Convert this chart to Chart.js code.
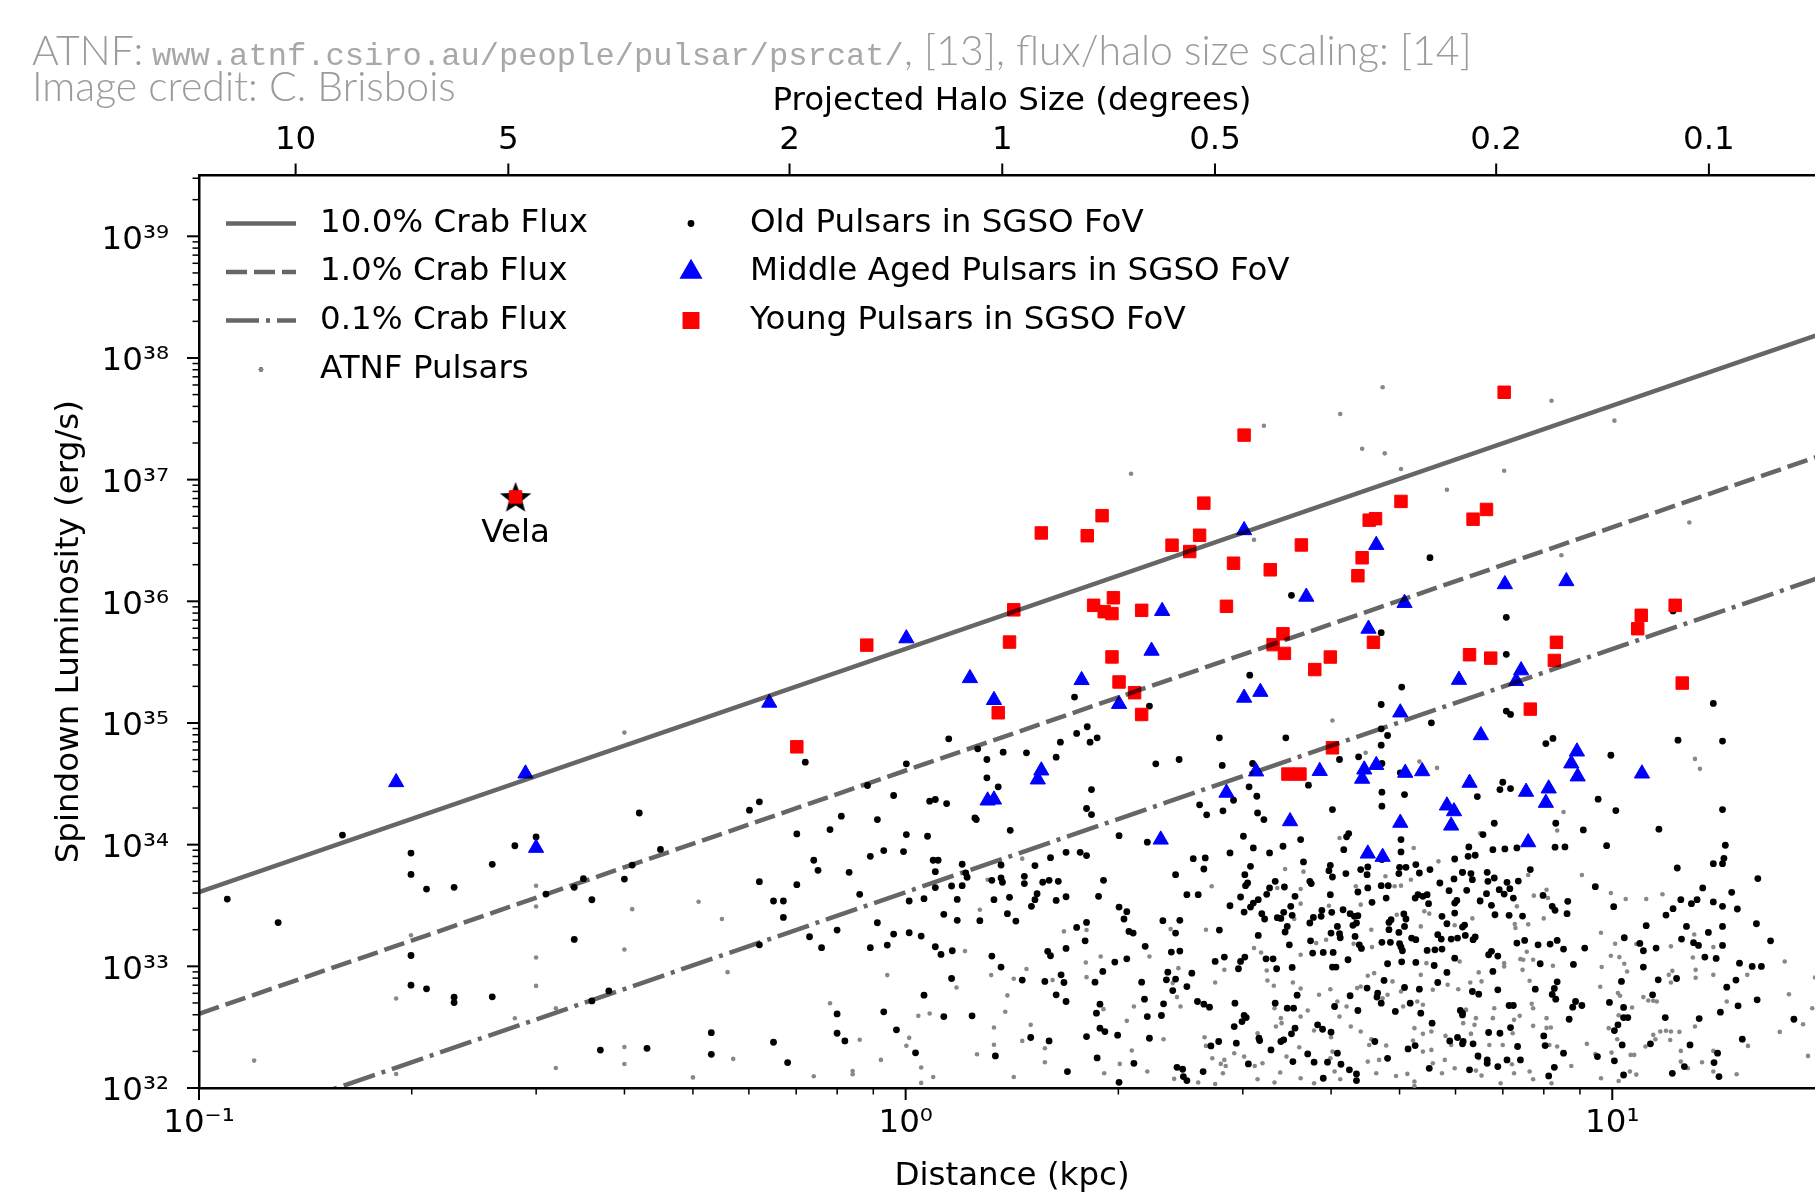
<!DOCTYPE html>
<html>
<head>
<meta charset="utf-8">
<script src="https://cdn.jsdelivr.net/npm/chart.js@4.4.1/dist/chart.umd.min.js"></script>
<style>
  html, body { margin: 0; padding: 0; background: #fff; overflow: hidden; }
  #wrap { width: 1843px; height: 1196px; }
</style>
</head>
<body>
<div id="wrap"><canvas id="pulsarChart" width="1843" height="1196"></canvas></div>
<script>
// all points are [log10(distance / kpc), log10(spindown luminosity / erg s^-1)]

const youngPulsars = [
  [-0.552,36.858],
  [-0.055,35.640],[-0.154,34.804],[0.192,36.562],[0.153,35.930],[0.147,35.665],[0.131,35.084],
  [0.257,36.539],[0.278,36.704],[0.266,35.967],[0.281,35.915],[0.294,36.029],[0.292,35.899],
  [0.292,35.543],[0.302,35.337],[0.324,35.249],[0.334,35.070],[0.334,35.926],[0.377,36.461],
  [0.402,36.409],[0.422,36.807],[0.416,36.543],[0.454,35.959],[0.464,36.313],[0.479,37.366],
  [0.516,36.259],[0.520,35.644],[0.534,35.733],[0.536,35.572],[0.560,36.463],[0.579,35.439],
  [0.601,35.542],[0.604,34.796],[0.541,34.580],[0.558,34.580],[0.640,36.210],[0.646,36.358],
  [0.656,36.667],[0.665,36.679],[0.662,35.663],[0.701,36.821],[0.803,36.675],[0.822,36.755],
  [0.798,35.561],[0.828,35.533],[0.847,37.718],[0.884,35.114],[0.918,35.514],[0.921,35.663],
  [1.036,35.775],[1.041,35.885],[1.089,35.967],[1.099,35.328]
];

const vela = [[-0.552,36.858]];

const middlePulsars = [
  [-0.721,34.513],[-0.538,34.584],[-0.523,33.973],[-0.193,35.166],[0.001,35.695],[0.091,35.368],
  [0.125,35.188],[0.116,34.362],[0.125,34.370],[0.187,34.535],[0.192,34.609],[0.249,35.352],
  [0.302,35.156],[0.348,35.593],[0.363,35.920],[0.361,34.041],[0.479,36.584],[0.479,35.207],
  [0.502,35.255],[0.496,34.601],[0.454,34.426],[0.567,36.037],[0.544,34.192],[0.586,34.605],
  [0.655,35.774],[0.649,34.617],[0.666,34.654],[0.646,34.541],[0.666,36.463],[0.706,35.986],
  [0.700,35.086],[0.707,34.590],[0.731,34.603],[0.700,34.179],[0.654,33.926],[0.675,33.899],
  [0.766,34.321],[0.776,34.274],[0.772,34.156],[0.783,35.354],[0.814,34.899],[0.798,34.508],
  [0.871,35.432],[0.864,35.344],[0.848,36.140],[0.878,34.434],[0.881,34.019],[0.906,34.343],
  [0.910,34.461],[0.935,36.165],[0.950,34.765],[0.942,34.667],[0.951,34.560],[1.042,34.584]
];

const oldPulsars = [
  [-0.960,33.553],[-0.888,33.360],[-0.797,34.079],[-0.700,33.931],[-0.700,33.755],[-0.678,33.635],
  [-0.639,33.649],[-0.585,33.838],[-0.553,33.991],[-0.523,34.063],[-0.509,33.594],[-0.469,33.649],
  [-0.456,33.720],[-0.444,33.547],[-0.398,33.717],[-0.387,33.832],[-0.377,34.260],[-0.347,33.961],
  [-0.469,33.221],[-0.700,33.089],[-0.700,32.845],[-0.678,32.815],[-0.639,32.746],[-0.639,32.702],
  [-0.585,32.749],[-0.444,32.716],[-0.420,32.798],[-0.432,32.312],[-0.366,32.326],[-0.275,32.455],
  [-0.275,32.277],
  [0.131,34.475],[0.263,34.453],[0.256,34.297],[0.263,34.247],[-0.221,34.283],[-0.207,34.352],
  [-0.054,34.486],[-0.017,34.404],[0.034,34.357],[0.042,34.371],[0.058,34.338],[0.098,34.220],
  [0.100,34.206],[0.148,34.118],[-0.091,34.234],[-0.040,34.206],[-0.107,34.124],[-0.154,34.088],
  [0.001,34.083],[0.031,34.069],[-0.130,33.872],[-0.124,33.789],[-0.080,33.773],[-0.050,33.904],
  [-0.031,33.951],[-0.003,33.943],[0.039,33.872],[0.046,33.872],[0.042,33.778],[0.080,33.839],
  [0.085,33.767],[0.087,33.732],[0.135,33.833],[0.183,33.828],[0.205,33.893],[0.227,33.937],
  [0.247,33.937],[0.256,33.910],[0.122,33.707],[0.135,33.726],[0.137,33.691],[0.168,33.740],
  [0.168,33.680],[0.194,33.691],[0.203,33.707],[0.216,33.699],[-0.207,33.696],[-0.154,33.671],
  [-0.065,33.592],[-0.187,33.537],[-0.173,33.537],[-0.173,33.402],[0.005,33.537],[0.026,33.556],
  [0.042,33.647],[0.065,33.660],[0.080,33.663],[0.073,33.550],[0.125,33.548],[0.147,33.567],
  [0.186,33.597],[0.183,33.548],[0.178,33.493],[0.213,33.542],[0.227,33.572],[0.273,33.575],
  [0.054,33.427],[0.073,33.378],[0.105,33.375],[0.144,33.433],[0.156,33.372],[-0.040,33.358],
  [-0.097,33.298],[-0.136,33.243],[-0.207,33.177],[-0.119,33.153],[-0.050,33.153],[-0.026,33.175],
  [-0.017,33.265],[0.005,33.276],[0.022,33.249],[0.042,33.161],[0.050,33.098],[0.066,33.128],
  [0.122,33.084],[0.135,32.994],[0.242,33.320],[0.256,33.361],[0.254,33.210],[0.227,33.147],
  [0.201,33.123],[0.205,33.087],[0.268,32.870],[0.165,32.887],[0.197,32.876],[0.220,32.930],
  [0.224,32.867],[0.213,32.766],[0.227,32.711],[0.275,32.689],[0.270,32.615],[0.275,32.492],
  [0.256,32.423],[0.177,32.415],[0.203,32.387],[0.271,32.247],[0.229,32.135],[0.127,32.264],
  [0.014,32.289],[-0.013,32.478],[0.065,32.900],[0.026,32.763],[-0.031,32.626],[0.054,32.587],
  [0.094,32.593],[-0.097,32.609],[-0.097,32.450],[-0.086,32.387],[-0.187,32.376],[-0.167,32.209],
  [0.354,34.664],[0.448,34.651],[0.491,34.667],[0.674,34.667],[0.570,34.489],[0.486,34.475],
  [0.497,34.398],[0.464,34.365],[0.674,34.431],[0.706,34.412],[0.674,34.316],[0.416,34.327],
  [0.449,34.278],[0.426,34.245],[0.498,34.261],[0.507,34.206],[0.604,34.288],[0.302,34.074],
  [0.342,34.020],[0.478,34.069],[0.559,34.042],[0.534,33.987],[0.492,33.973],[0.515,33.932],
  [0.459,33.932],[0.620,33.959],[0.627,34.091],[0.624,34.064],[0.701,34.042],[0.701,33.940],
  [0.407,33.885],[0.424,33.891],[0.422,33.800],[0.488,33.822],[0.563,33.858],[0.601,33.830],
  [0.599,33.786],[0.382,33.753],[0.480,33.753],[0.623,33.762],[0.604,33.734],[0.644,33.795],
  [0.654,33.817],[0.653,33.753],[0.674,33.877],[0.699,33.814],[0.708,33.814],[0.722,33.836],
  [0.742,33.795],[0.777,33.882],[0.788,33.773],[0.776,33.718],[0.727,33.767],[0.280,33.707],
  [0.398,33.589],[0.414,33.589],[0.459,33.498],[0.474,33.570],[0.481,33.663],[0.484,33.685],
  [0.511,33.592],[0.515,33.644],[0.523,33.699],[0.536,33.652],[0.551,33.575],[0.572,33.699],
  [0.574,33.680],[0.601,33.589],[0.640,33.611],[0.654,33.644],[0.660,33.526],[0.680,33.561],
  [0.673,33.663],[0.683,33.663],[0.698,33.762],[0.721,33.561],[0.725,33.589],[0.732,33.575],
  [0.738,33.589],[0.740,33.515],[0.756,33.685],[0.769,33.622],[0.777,33.520],[0.780,33.542],
  [0.759,33.411],[0.777,33.438],[0.302,33.487],[0.313,33.449],[0.309,33.389],[0.364,33.375],
  [0.388,33.378],[0.382,33.273],[0.316,33.287],[0.322,33.273],[0.339,33.164],[0.376,33.117],
  [0.388,33.125],[0.296,33.035],[0.313,33.062],[0.279,32.958],[0.444,33.298],[0.479,33.446],
  [0.488,33.487],[0.492,33.520],[0.499,33.548],[0.504,33.433],[0.508,33.389],[0.499,33.254],
  [0.526,33.400],[0.531,33.394],[0.535,33.444],[0.537,33.282],[0.540,33.328],[0.545,33.493],
  [0.547,33.419],[0.543,33.177],[0.572,33.356],[0.577,33.402],[0.589,33.460],[0.588,33.411],
  [0.603,33.444],[0.611,33.328],[0.602,33.273],[0.614,33.268],[0.615,33.235],[0.573,33.210],
  [0.619,33.465],[0.629,33.433],[0.635,33.411],[0.640,33.416],[0.638,33.356],[0.633,33.337],
  [0.636,33.246],[0.642,33.177],[0.645,33.147],[0.684,33.361],[0.687,33.383],[0.684,33.301],
  [0.674,33.197],[0.686,33.197],[0.699,33.186],[0.701,33.158],[0.698,33.279],[0.706,33.328],
  [0.705,33.430],[0.708,33.389],[0.716,33.232],[0.722,33.219],[0.703,33.128],[0.738,33.131],
  [0.749,33.136],[0.753,33.260],[0.758,33.224],[0.759,33.142],[0.772,33.224],[0.781,33.232],
  [0.766,33.350],[0.791,33.339],[0.777,33.067],[0.748,33.007],[0.722,33.032],[0.702,33.037],
  [0.682,33.021],[0.626,33.054],[0.605,33.114],[0.591,33.114],[0.576,33.109],[0.604,32.994],
  [0.609,32.994],[0.547,32.991],[0.525,32.980],[0.510,33.062],[0.520,33.062],[0.480,33.076],
  [0.474,33.040],[0.471,32.980],[0.451,33.076],[0.438,33.040],[0.766,32.950],[0.753,32.867],
  [0.727,32.812],[0.706,32.826],[0.677,32.884],[0.653,32.821],[0.668,32.780],[0.667,32.747],
  [0.673,32.697],[0.693,32.629],[0.714,32.697],[0.729,32.615],[0.745,32.533],[0.785,32.637],
  [0.788,32.601],[0.629,32.758],[0.607,32.670],[0.640,32.637],[0.583,32.519],[0.590,32.483],
  [0.602,32.459],[0.554,32.763],[0.540,32.656],[0.549,32.656],[0.551,32.492],[0.546,32.445],
  [0.535,32.396],[0.531,32.382],[0.523,32.697],[0.500,32.409],[0.501,32.390],[0.517,32.313],
  [0.468,32.368],[0.465,32.505],[0.476,32.546],[0.482,32.579],[0.479,32.596],[0.466,32.697],
  [0.443,32.382],[0.432,32.346],[0.413,32.711],[0.422,32.689],[0.430,32.664],[0.382,32.895],
  [0.378,32.801],[0.369,32.889],[0.371,32.952],[0.398,32.834],[0.405,32.944],[0.334,32.870],
  [0.338,32.730],[0.365,32.692],[0.342,32.587],[0.362,32.596],[0.345,32.409],[0.300,32.434],
  [0.282,32.464],[0.323,32.203],[0.302,32.047],[0.384,32.170],[0.392,32.154],[0.393,32.094],
  [0.398,32.061],[0.421,32.135],[0.485,32.198],[0.548,32.217],[0.569,32.280],[0.578,32.212],
  [0.597,32.212],[0.611,32.286],[0.616,32.195],[0.628,32.149],[0.638,32.116],[0.638,32.061],
  [0.591,32.080],[0.664,32.382],[0.682,32.244],[0.711,32.321],[0.721,32.349],[0.741,32.162],
  [0.770,32.387],[0.781,32.415],[0.789,32.382],[0.803,32.363],[0.798,32.149],
  [0.845,34.513],[0.841,34.453],[0.856,34.461],[0.809,34.395],[0.980,34.374],[1.005,34.280],
  [1.156,34.288],[0.833,34.176],[0.817,34.083],[0.920,34.176],[0.959,34.121],[1.066,34.127],
  [0.797,33.981],[0.796,33.904],[0.806,33.913],[0.831,33.959],[0.848,33.965],[0.865,33.973],
  [0.919,33.979],[0.933,33.981],[0.992,33.992],[1.160,33.995],[1.143,33.844],[1.156,33.844],
  [1.158,33.888],[1.092,33.808],[0.884,33.795],[0.788,33.773],[0.800,33.762],[0.823,33.773],
  [0.833,33.726],[0.824,33.699],[0.802,33.712],[0.851,33.690],[0.867,33.701],[0.794,33.625],
  [0.822,33.597],[0.840,33.630],[0.847,33.594],[0.855,33.638],[0.860,33.561],[0.813,33.537],
  [0.829,33.501],[0.834,33.424],[0.854,33.419],[0.873,33.413],[0.902,33.583],[0.915,33.493],
  [0.919,33.460],[0.937,33.534],[0.936,33.433],[0.976,33.655],[1.002,33.490],[1.206,33.721],
  [1.128,33.644],[1.169,33.608],[1.097,33.548],[1.120,33.548],[1.112,33.515],[1.143,33.529],
  [1.156,33.493],[1.177,33.471],[1.086,33.474],[1.076,33.421],[1.204,33.350],[1.048,33.334],
  [1.105,33.328],[1.136,33.279],[1.156,33.328],[1.224,33.210],[0.788,33.323],[0.792,33.254],
  [0.803,33.219],[0.806,33.241],[0.865,33.191],[0.876,33.213],[0.895,33.177],[0.912,33.183],
  [0.922,33.213],[0.931,33.142],[0.961,33.150],[1.017,33.235],[1.039,33.188],[1.044,33.128],
  [1.062,33.150],[1.098,33.224],[1.115,33.194],[1.122,33.172],[1.156,33.172],[1.131,33.076],
  [1.147,33.065],[1.180,33.026],[1.198,32.999],[1.211,32.999],[0.825,33.095],[0.829,33.123],
  [0.838,33.084],[0.831,32.958],[0.898,33.021],[0.945,33.016],[1.044,32.994],[1.065,32.889],
  [1.091,32.900],[1.013,32.876],[0.922,32.873],[0.918,32.818],[0.915,32.769],[0.920,32.730],
  [0.891,32.812],[0.838,32.807],[0.802,32.793],[0.811,32.771],[1.162,32.829],[1.175,32.887],
  [1.057,32.766],[0.996,32.703],[1.016,32.662],[0.948,32.711],[0.944,32.664],[0.957,32.678],
  [0.854,32.678],[0.860,32.678],[0.788,32.615],[1.205,32.725],[1.178,32.675],[1.153,32.623],
  [1.075,32.579],[1.123,32.571],[1.257,32.565],[1.016,32.579],[1.022,32.579],[0.939,32.565],
  [0.856,32.497],[1.008,32.519],[1.003,32.472],[0.903,32.428],[0.825,32.456],[0.841,32.450],
  [1.184,32.401],[1.110,32.354],[1.054,32.363],[1.014,32.354],[0.905,32.349],[0.866,32.341],
  [0.788,32.363],[0.931,32.286],[1.149,32.286],[0.979,32.258],[0.810,32.264],[0.823,32.231],
  [0.823,32.203],[0.851,32.231],[0.870,32.231],[0.838,32.176],[1.003,32.223],[1.144,32.209],
  [1.102,32.176],[0.918,32.170],[0.910,32.099],[1.016,32.107],[1.085,32.121],[1.151,32.094],
  [0.742,36.359],[0.546,36.049],[0.850,35.868],[0.673,35.742],[0.850,35.564],[0.702,35.295],
  [0.673,35.152],[0.744,35.001],[0.850,35.098],[0.856,35.070],[0.673,34.952],[0.682,34.897],
  [0.673,34.818],[0.538,34.878],[0.614,34.700],[0.641,34.722],[0.906,34.831],[0.916,34.873],
  [0.998,34.735],[1.093,34.859],[1.156,34.851],[1.143,35.161],[1.086,35.921],[0.700,34.590],
  [-0.142,34.678],[0.001,34.664],[0.061,34.870],[0.102,34.788],[0.115,34.700],[0.138,34.760],
  [0.171,34.755],[0.213,34.719],[0.219,34.842],[0.242,34.914],[0.257,34.969],[0.261,34.842],
  [0.271,34.878],[0.239,35.213],[0.345,35.139],[0.387,34.700],[0.115,34.549],
  [0.487,35.393],[0.444,34.878]
];

const atnfPulsars = [
  [-0.398,34.921],[-0.523,33.662],[-0.523,33.492],[-0.387,33.470],[-0.293,33.531],[-0.700,33.256],
  [-0.523,33.073],[-0.398,33.138],[-0.523,32.839],[-0.721,32.735],[-0.553,32.573],[-0.495,32.655],
  [-0.922,32.225],[-0.721,32.115],[-0.495,32.164],[-0.398,32.337],[-0.398,32.197],[-0.301,32.087],
  [0.165,33.885],[0.116,33.712],[0.105,33.465],[0.224,33.287],[0.256,33.298],[0.255,33.032],
  [0.276,33.081],[0.256,32.911],[0.208,32.887],[0.171,32.978],[0.153,32.898],[0.144,32.761],
  [0.121,32.928],[0.141,32.627],[0.125,32.497],[0.125,32.355],[0.101,32.278],[0.177,32.519],
  [0.165,32.387],[0.197,32.327],[0.197,32.212],[0.153,32.091],[0.084,33.125],[0.072,32.826],
  [0.034,32.612],[0.018,32.593],[0.005,32.412],[0.001,32.347],[0.022,32.168],[0.022,32.042],
  [0.039,32.091],[-0.035,32.231],[-0.065,32.396],[-0.075,32.140],[-0.075,32.113],[-0.130,32.096],
  [-0.107,32.697],[-0.026,32.928],[-0.244,32.239],[-0.252,32.952],[-0.260,33.389],
  [0.614,34.055],[0.719,33.973],[0.754,33.863],[0.679,33.740],[0.692,33.658],[0.701,33.663],
  [0.715,33.712],[0.637,33.658],[0.537,33.800],[0.563,33.778],[0.559,33.636],[0.526,33.644],
  [0.433,33.658],[0.559,33.515],[0.599,33.498],[0.644,33.507],[0.695,33.424],[0.734,33.452],
  [0.741,33.433],[0.777,33.337],[0.812,33.548],[0.659,33.301],[0.634,33.186],[0.660,33.158],
  [0.581,33.191],[0.595,33.219],[0.550,33.389],[0.493,33.150],[0.503,33.114],[0.511,32.966],
  [0.512,32.884],[0.521,32.840],[0.548,32.867],[0.559,32.818],[0.559,33.095],[0.585,32.766],
  [0.601,32.812],[0.611,32.711],[0.624,32.670],[0.639,32.821],[0.644,32.834],[0.654,32.922],
  [0.663,32.944],[0.675,32.738],[0.682,32.766],[0.689,32.876],[0.701,32.793],[0.704,32.670],
  [0.724,32.711],[0.732,32.684],[0.729,32.930],[0.737,33.026],[0.729,33.328],[0.746,32.807],
  [0.767,32.848],[0.782,32.812],[0.799,32.867],[0.784,33.040],[0.793,32.643],[0.789,32.533],
  [0.800,32.445],[0.764,32.428],[0.772,32.354],[0.744,32.464],[0.732,32.445],[0.720,32.492],
  [0.718,32.390],[0.732,32.299],[0.744,32.313],[0.746,32.203],[0.763,32.231],[0.759,32.121],
  [0.777,32.162],[0.811,32.244],[0.710,32.116],[0.694,32.099],[0.720,32.053],[0.720,32.017],
  [0.666,32.121],[0.680,32.349],[0.670,32.231],[0.659,32.401],[0.656,32.354],[0.644,32.464],
  [0.630,32.505],[0.614,32.587],[0.602,32.417],[0.604,32.299],[0.601,32.244],[0.607,32.135],
  [0.615,32.072],[0.559,32.587],[0.569,32.637],[0.578,32.472],[0.557,32.335],[0.539,32.258],
  [0.530,32.127],[0.522,32.045],[0.498,32.072],[0.494,32.181],[0.505,32.203],[0.479,32.258],
  [0.465,32.286],[0.524,32.505],[0.531,32.574],[0.532,32.533],[0.522,32.656],[0.498,32.450],
  [0.451,32.231],[0.453,32.181],[0.446,32.198],[0.449,32.121],[0.438,32.033],[0.434,32.244],
  [0.423,32.417],[0.425,32.346],[0.414,32.045],[0.380,32.075],[0.365,32.401],[0.389,32.670],
  [0.384,32.747],[0.378,32.862],[0.375,33.306],[0.345,33.081],[0.386,32.985],[0.451,32.971],
  [0.438,32.867],[0.425,33.301],[0.280,32.648],[0.323,32.670],[0.313,32.552],[0.320,32.308],
  [0.303,32.198],[0.281,32.121],[0.342,32.135],[0.559,32.080],[0.578,32.039],[0.654,32.217],
  [0.931,34.269],[0.922,34.116],[0.813,34.094],[0.957,33.751],[0.881,33.751],[0.889,33.581],
  [0.907,33.630],[0.909,33.561],[0.998,33.603],[1.019,33.553],[1.048,33.553],[1.071,33.592],
  [0.865,33.493],[0.802,33.394],[0.862,33.348],[0.863,33.315],[0.881,33.345],[0.903,33.394],
  [0.984,33.276],[1.004,33.186],[1.034,33.183],[1.083,33.164],[1.116,33.262],[1.143,33.158],
  [0.879,33.120],[0.870,33.059],[0.874,33.054],[0.888,33.054],[0.847,33.026],[0.847,32.999],
  [0.811,32.950],[0.815,32.876],[0.873,32.971],[0.916,33.005],[0.998,33.087],[1.010,33.076],
  [1.017,33.021],[1.021,32.958],[0.985,32.994],[0.983,32.832],[1.008,32.780],[1.011,32.758],
  [1.028,32.662],[1.044,32.747],[1.058,32.717],[1.063,32.711],[1.080,32.930],[1.085,32.963],
  [1.083,32.867],[1.114,33.073],[1.118,32.971],[1.118,32.906],[1.143,32.930],[1.162,32.711],
  [1.191,32.930],[1.244,33.040],[1.287,32.908],[1.250,32.771],[1.283,32.656],[1.270,32.524],
  [1.237,32.461],[1.192,32.346],[1.277,32.264],[1.176,32.113],[1.143,32.305],[1.127,32.212],
  [1.117,32.505],[1.097,32.305],[1.107,32.162],[1.068,32.464],[1.076,32.470],[1.083,32.464],
  [1.058,32.437],[1.061,32.401],[1.047,32.341],[1.082,32.395],[1.095,32.461],[1.051,32.719],
  [0.995,32.492],[1.007,32.401],[1.009,32.598],[0.964,32.363],[0.976,32.280],[0.999,32.291],
  [1.026,32.272],[1.031,32.272],[1.025,32.135],[1.034,32.110],[1.009,32.058],[0.984,32.080],
  [0.942,32.181],[0.914,32.039],[0.888,32.072],[0.883,32.135],[0.861,32.121],[0.815,32.102],
  [0.807,32.143],[0.842,32.039],[0.858,32.195],[0.826,32.354],[0.845,32.354],[0.859,32.450],
  [0.888,32.511],[0.907,32.574],[0.907,32.494],[0.913,32.497],[0.922,32.341],[0.911,32.354],
  [0.888,32.656],[0.886,32.692],[0.869,32.593],[0.861,32.560],[0.833,32.656],[0.831,32.574],
  [0.807,32.574],[0.805,32.519],[0.800,32.445],[0.793,32.642],[0.883,32.881],[1.143,32.135],
  [1.097,32.217],
  [1.109,36.648],[0.928,36.379],[0.604,35.021],[0.651,34.755],[0.727,34.683],[0.752,34.631],
  [1.117,34.705],[1.124,34.623],
  [0.675,37.759],[0.914,37.649],[0.615,37.539],[0.507,37.443],[0.646,37.254],[0.678,37.216],
  [0.319,37.048],[0.701,37.087],[0.847,37.073],[0.766,36.917],[1.003,37.485],[0.493,36.505]
];

// flux limit lines: log10 L at the two ends of the distance range
const lineDistances = [0.1, 20];
const fluxLines = [
  { label: '10.0% Crab Flux', ends: [33.61, 38.21], dash: [] },
  { label: '1.0% Crab Flux',  ends: [32.61, 37.21], dash: [21, 7] },
  { label: '0.1% Crab Flux',  ends: [31.61, 36.21], dash: [33, 7, 4, 7] }
];

// axis ranges and tick labels
const xRange = [0.1, 20];
const yRange = [1e32, 3.16e39];
const xMajorTicks = [0.1, 1, 10];
const yExponents = [32, 33, 34, 35, 36, 37, 38, 39];
const haloTicks = [10, 5, 2, 1, 0.5, 0.2, 0.1];
const haloDegKpc = 1.37;   // projected halo size (deg) x distance (kpc)

const FONT = "'DejaVu Sans', sans-serif";
const FSIZE = 32.5;
const SUP = {'-': '\u207B', '0': '\u2070', '1': '\u00B9', '2': '\u00B2', '3': '\u00B3',
  '4': '\u2074', '5': '\u2075', '6': '\u2076', '7': '\u2077', '8': '\u2078', '9': '\u2079'};
const pow10Label = e => '10' + String(e).split('').map(c => SUP[c]).join('');
const isPow10 = v => Math.abs(Math.log10(v) - Math.round(Math.log10(v))) < 1e-9;

const toXY = p => ({ x: Math.pow(10, p[0]), y: Math.pow(10, p[1]) });

function starImage(size) {
  const c = document.createElement('canvas');
  c.width = c.height = size;
  const g = c.getContext('2d');
  const R = size / 2 - 0.5, r = R * 0.42;
  g.beginPath();
  for (let i = 0; i < 10; i++) {
    const rad = i % 2 ? r : R;
    const a = -Math.PI / 2 + i * Math.PI / 5;
    g.lineTo(size / 2 + rad * Math.cos(a), size / 2 + 1.5 + rad * Math.sin(a));
  }
  g.closePath();
  g.fillStyle = '#000';
  g.fill();
  return c;
}

// outward tick marks, major and minor
const tickMarks = {
  id: 'tickMarks',
  afterDraw(chart) {
    const ctx = chart.ctx;
    ctx.save();
    ctx.strokeStyle = '#000';
    ['x', 'y', 'x2'].forEach(id => {
      const s = chart.scales[id];
      s.ticks.forEach(t => {
        const major = id === 'x2' || isPow10(t.value);
        const len = major ? 12 : 6.5;
        ctx.lineWidth = major ? 2 : 1.5;
        const p = s.getPixelForValue(t.value);
        ctx.beginPath();
        if (id === 'x') { ctx.moveTo(p, s.top); ctx.lineTo(p, s.top + len); }
        else if (id === 'x2') { ctx.moveTo(p, s.bottom); ctx.lineTo(p, s.bottom - len); }
        else { ctx.moveTo(s.right, p); ctx.lineTo(s.right - len, p); }
        ctx.stroke();
      });
    });
    ctx.restore();
  }
};

// two-column legend inside the axes plus the Vela label
const legendBox = {
  id: 'legendBox',
  afterDraw(chart) {
    const ctx = chart.ctx;
    const ds = chart.data.datasets;
    const rows = [223.5, 272, 320.5, 369.5];
    ctx.save();
    ctx.font = FSIZE + 'px ' + FONT;
    ctx.textBaseline = 'middle';
    ctx.fillStyle = '#000';

    for (let i = 0; i < 3; i++) {
      ctx.strokeStyle = ds[i].borderColor;
      ctx.lineWidth = ds[i].borderWidth;
      ctx.setLineDash(ds[i].borderDash);
      ctx.beginPath();
      ctx.moveTo(226, rows[i]);
      ctx.lineTo(296, rows[i]);
      ctx.stroke();
      ctx.fillText(ds[i].label, 320, rows[i]);
    }
    ctx.setLineDash([]);
    const atnf = ds.find(d => d.label === 'ATNF Pulsars');
    Chart.helpers.drawPoint(ctx, { pointStyle: 'circle', radius: atnf.pointRadius, borderWidth: 0 }, 261, rows[3]);
    ctx.fillStyle = atnf.backgroundColor; ctx.fill();
    ctx.fillStyle = '#000';
    ctx.fillText('ATNF Pulsars', 320, rows[3]);

    ['Old Pulsars in SGSO FoV', 'Middle Aged Pulsars in SGSO FoV', 'Young Pulsars in SGSO FoV'].forEach((lab, i) => {
      const d = ds.find(x => x.label === lab);
      ctx.fillStyle = d.backgroundColor;
      ctx.strokeStyle = d.borderColor;
      const opts = { pointStyle: d.pointStyle, radius: d.legendRadius, borderWidth: d.pointBorderWidth, rotation: 0 };
      Chart.helpers.drawPoint(ctx, opts, 691, rows[i]);
      ctx.fillStyle = '#000';
      ctx.fillText(lab, 750, rows[i]);
    });

    const v = toXY(vela[0]);
    ctx.textAlign = 'center';
    ctx.fillText('Vela', chart.scales.x.getPixelForValue(v.x), chart.scales.y.getPixelForValue(v.y) + 36.5);
    ctx.restore();
  }
};

// credit lines above the plot
const creditText = {
  id: 'creditText',
  afterDraw(chart) {
    const ctx = chart.ctx;
    ctx.save();
    ctx.fillStyle = '#9b9b9b';
    ctx.textBaseline = 'alphabetic';
    const sansFam = "Lato, 'Open Sans', sans-serif";
    const tail = ', [13], flux/halo size scaling: [14]';
    ctx.font = '300 100px ' + sansFam;
    const sansSize = 100 * 568 / ctx.measureText(tail).width;
    ctx.font = '300 ' + sansSize + 'px ' + sansFam;
    ctx.fillText('ATNF: ', 32, 64.5);
    ctx.fillText(tail, 904, 64.5);
    ctx.fillText('Image credit: C. Brisbois', 32, 101);
    const url = 'www.atnf.csiro.au/people/pulsar/psrcat/';
    ctx.fillStyle = '#a8a8a8';
    ctx.font = '100px "Liberation Mono", monospace';
    const monoSize = 100 * 752 / ctx.measureText(url).width;
    ctx.font = monoSize + 'px "Liberation Mono", monospace';
    ctx.fillText(url, 152, 64.5);
    ctx.restore();
  }
};

const lineSets = fluxLines.map(f => ({
  type: 'line',
  label: f.label,
  data: lineDistances.map((d, i) => ({ x: d, y: Math.pow(10, f.ends[i]) })),
  borderColor: 'rgba(0,0,0,0.6)',
  borderWidth: 4.5,
  borderDash: f.dash,
  borderCapStyle: 'butt',
  pointRadius: 0,
  fill: false,
  tension: 0,
  clip: 0,
  order: 0
}));

const datasets = lineSets.concat([
  {
    label: 'Young Pulsars in SGSO FoV',
    data: youngPulsars.map(toXY),
    pointStyle: 'rect', pointRadius: 8.8, legendRadius: 8.8,
    backgroundColor: '#ff0000', borderColor: '#ff0000', pointBorderWidth: 1,
    order: 1
  },
  {
    label: 'Vela',
    data: vela.map(toXY),
    pointStyle: starImage(34), pointRadius: 17,
    backgroundColor: '#000', borderColor: '#000',
    order: 2
  },
  {
    label: 'Middle Aged Pulsars in SGSO FoV',
    data: middlePulsars.map(toXY),
    pointStyle: 'triangle', pointRadius: 8.8, legendRadius: 8.8,
    backgroundColor: '#0000ff', borderColor: '#0000ff', pointBorderWidth: 1,
    order: 3
  },
  {
    label: 'Old Pulsars in SGSO FoV',
    data: oldPulsars.map(toXY),
    pointStyle: 'circle', pointRadius: 3.4, legendRadius: 3.4,
    backgroundColor: '#000', borderColor: '#000', pointBorderWidth: 0,
    order: 4
  },
  {
    label: 'ATNF Pulsars',
    data: atnfPulsars.map(toXY),
    pointStyle: 'circle', pointRadius: 2.3,
    backgroundColor: '#888888', borderColor: '#888888', pointBorderWidth: 0,
    order: 5
  }
]);

const tickFont = { family: FONT, size: FSIZE };
const titleFont = { family: FONT, size: FSIZE };

new Chart(document.getElementById('pulsarChart').getContext('2d'), {
  type: 'scatter',
  data: { datasets: datasets },
  options: {
    responsive: false,
    animation: false,
    devicePixelRatio: 1,
    events: [],
    layout: { padding: { left: 0, right: 6.5, top: 0, bottom: 0 } },
    plugins: { legend: { display: false }, tooltip: { enabled: false } },
    scales: {
      x: {
        type: 'logarithmic', position: 'bottom',
        min: xRange[0], max: xRange[1],
        grid: { display: false, drawTicks: false },
        border: { display: true, color: '#000', width: 2.5 },
        afterFit: s => { s.height = 108; },
        afterBuildTicks: s => {
          const t = [];
          xMajorTicks.forEach(m => { for (let k = 1; k <= 9; k++) { const v = m * k; if (v < xRange[1]) t.push({ value: v }); } });
          s.ticks = t;
        },
        ticks: {
          autoSkip: false, maxRotation: 0, minRotation: 0, padding: 16,
          color: '#000', font: tickFont,
          callback: v => isPow10(v) ? pow10Label(Math.round(Math.log10(v))) : ''
        },
        title: { display: true, text: 'Distance (kpc)', color: '#000', font: titleFont, padding: { top: 0, bottom: 0 } }
      },
      y: {
        type: 'logarithmic', position: 'left',
        min: yRange[0], max: yRange[1],
        grid: { display: false, drawTicks: false },
        border: { display: true, color: '#000', width: 2.5 },
        afterFit: s => { s.width = 199; },
        afterBuildTicks: s => {
          const t = [];
          yExponents.forEach(e => {
            for (let k = 1; k <= 9; k++) { const v = k * Math.pow(10, e); if (v <= yRange[1]) t.push({ value: v }); }
          });
          s.ticks = t;
        },
        ticks: {
          autoSkip: false, padding: 30, labelOffset: 4,
          color: '#000', font: tickFont,
          callback: v => isPow10(v) ? pow10Label(Math.round(Math.log10(v))) : ''
        },
        title: { display: true, text: 'Spindown Luminosity (erg/s)', color: '#000', font: titleFont, padding: { top: 50, bottom: 0 } }
      },
      x2: {
        type: 'logarithmic', position: 'top', axis: 'x', reverse: true,
        min: haloDegKpc / xRange[1], max: haloDegKpc / xRange[0],
        grid: { display: false, drawTicks: false },
        border: { display: true, color: '#000', width: 2.5 },
        afterFit: s => { s.height = 175.5; },
        afterBuildTicks: s => { s.ticks = haloTicks.map(v => ({ value: v })); },
        ticks: {
          autoSkip: false, maxRotation: 0, minRotation: 0, padding: 15.5,
          color: '#000', font: tickFont,
          callback: v => String(v)
        },
        title: { display: true, text: 'Projected Halo Size (degrees)', color: '#000', font: titleFont, padding: { top: 82.5, bottom: 0 } }
      }
    }
  },
  plugins: [tickMarks, legendBox, creditText]
});
</script>
</body>
</html>
